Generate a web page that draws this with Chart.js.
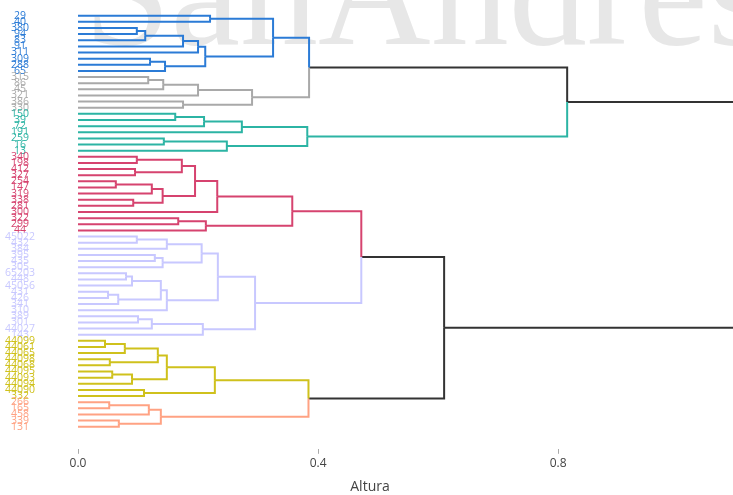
<!DOCTYPE html>
<html>
<head>
<meta charset="utf-8">
<script src="https://cdn.jsdelivr.net/npm/chart.js@4.4.0/dist/chart.umd.min.js"></script>
<style>
  html, body { margin: 0; padding: 0; background: #fff; }
  #wrap { width: 733px; height: 495px; }
</style>
</head>
<body>
<div id="wrap"><canvas id="dendro"></canvas></div>
<script>
// leaves, top to bottom
var leafLabels = [
  '29','40','380','94','83','91','311','309','288','65',
  '315','86','45','321','386','330',
  '150','39','72','191','259','16','13',
  '340','198','412','327','254','147','319','338','281','300','322','299','44',
  '45022','432','384','395','435','305','65203','448','45056','431','426','341','310','389','301','44027','143',
  '44099','44061','44065','44098','44068','44095','44093','44094','44090','332',
  '266','165','458','339','131'
];
var leafCluster = [
  0,0,0,0,0,0,0,0,0,0,
  1,1,1,1,1,1,
  2,2,2,2,2,2,2,
  3,3,3,3,3,3,3,3,3,3,3,3,3,
  4,4,4,4,4,4,4,4,4,4,4,4,4,4,4,4,4,
  5,5,5,5,5,5,5,5,5,5,
  6,6,6,6,6
];

// merges: ids < 68 are leaves, merge k gets id 68 + k
var mergeLeft  = [2,68,69,70,7,72,71,0,75, 10,77,78,14,79,76, 16,83,84,20,86,85,82,
                  23,25,90,27,93,30,94,92,97,33,99,98,
                  36,102,39,104,103,42,107,45,109,108,111,106,49,114,115,113,101,
                  53,119,56,120,58,123,122,61,125, 63,128,66,129,127,118,89];
var mergeRight = [3,4,5,6,8,9,73,1,74, 11,12,13,15,80,81, 17,18,19,21,22,87,88,
                  24,26,91,28,29,31,95,96,32,34,35,100,
                  37,38,40,41,105,43,44,46,47,110,48,112,50,51,52,116,117,
                  54,55,57,121,59,60,124,62,126, 64,65,67,130,131,132,133];
var mergeHeight = [0.098,0.112,0.175,0.200,0.120,0.145,0.212,0.220,0.325,
                   0.117,0.142,0.200,0.175,0.290,0.385,
                   0.162,0.210,0.273,0.143,0.248,0.382,0.815,
                   0.098,0.095,0.173,0.063,0.123,0.092,0.141,0.195,0.232,0.167,0.213,0.357,
                   0.098,0.148,0.128,0.141,0.206,0.080,0.090,0.050,0.067,0.138,0.148,0.233,
                   0.100,0.123,0.208,0.295,0.472,
                   0.045,0.078,0.053,0.133,0.057,0.090,0.148,0.110,0.228,
                   0.052,0.118,0.068,0.138,0.384,0.610,1.300];
var xTicks = [0, 0.4, 0.8];

var clusterColors = ['#2b7bd6', '#a9a9a9', '#2cb4a4', '#d6436f', '#c8c8ff', '#cfc11c', '#ffa283'];
var linkColor = '#333333';

var nLeaf = leafLabels.length;
var nodeY = [], nodeH = [], nodeCl = [], parent = [];
for (var i = 0; i < nLeaf; i++) {
  nodeY[i] = i; nodeH[i] = 0; nodeCl[i] = leafCluster[i];
}
for (var k = 0; k < mergeHeight.length; k++) {
  var id = nLeaf + k, a = mergeLeft[k], b = mergeRight[k];
  nodeY[id] = (nodeY[a] + nodeY[b]) / 2;
  nodeH[id] = mergeHeight[k];
  nodeCl[id] = nodeCl[a] === nodeCl[b] ? nodeCl[a] : -1;
  parent[a] = id; parent[b] = id;
}

// one elbow per node: across to the parent's height, then along to the parent
var datasets = [];
for (var n = 0; n < nodeY.length; n++) {
  var p = parent[n];
  if (p === undefined) continue;
  datasets.push({
    data: [
      {x: nodeH[n], y: nodeY[n]},
      {x: nodeH[p], y: nodeY[n]},
      {x: nodeH[p], y: nodeY[p]}
    ],
    borderColor: nodeCl[n] < 0 ? linkColor : clusterColors[nodeCl[n]],
    borderWidth: 2,
    pointRadius: 0,
    fill: false,
    clip: false
  });
}

var watermark = {
  id: 'watermark',
  beforeDraw: function(chart) {
    var c = chart.ctx;
    c.save();
    c.font = '156px "Liberation Serif", "DejaVu Serif", serif';
    c.fillStyle = '#e7e7e7';
    c.textBaseline = 'alphabetic';
    c.fillText('SanAndres', 84, 44);
    c.restore();
  }
};

new Chart(document.getElementById('dendro'), {
  type: 'line',
  data: { datasets: datasets },
  plugins: [watermark],
  options: {
    responsive: true,
    maintainAspectRatio: false,
    animation: false,
    layout: { padding: { left: 0, right: 71, top: 0, bottom: 0 } },
    plugins: { legend: { display: false }, tooltip: { enabled: false } },
    scales: {
      x: {
        type: 'linear',
        min: 0,
        max: 0.973,
        afterBuildTicks: function(axis) { axis.ticks = xTicks.map(function(v) { return {value: v}; }); },
        ticks: {
          color: '#444',
          padding: 3,
          font: { family: 'Open Sans', size: 12 },
          callback: function(v) { return v.toFixed(1); }
        },
        grid: { drawOnChartArea: false, drawTicks: true, tickLength: 5, color: '#aaa' },
        border: { display: false },
        title: {
          display: true, text: 'Altura', color: '#444',
          font: { family: 'Open Sans', size: 14 },
          padding: { top: 4, bottom: 0 }
        }
      },
      y: {
        type: 'linear',
        reverse: true,
        min: -2.56,
        max: 70.6,
        afterBuildTicks: function(axis) { axis.ticks = leafLabels.map(function(l, i) { return {value: i}; }); },
        afterFit: function(axis) { axis.width = 78; axis.paddingTop = 0; axis.paddingBottom = 0; },
        ticks: {
          autoSkip: false,
          crossAlign: 'center',
          padding: 35,
          font: { family: 'Open Sans', size: 10.5 },
          color: function(ctx) { return clusterColors[leafCluster[ctx.tick.value]]; },
          callback: function(v) { return leafLabels[v]; }
        },
        grid: { display: false },
        border: { display: false }
      }
    }
  }
});
</script>
</body>
</html>
